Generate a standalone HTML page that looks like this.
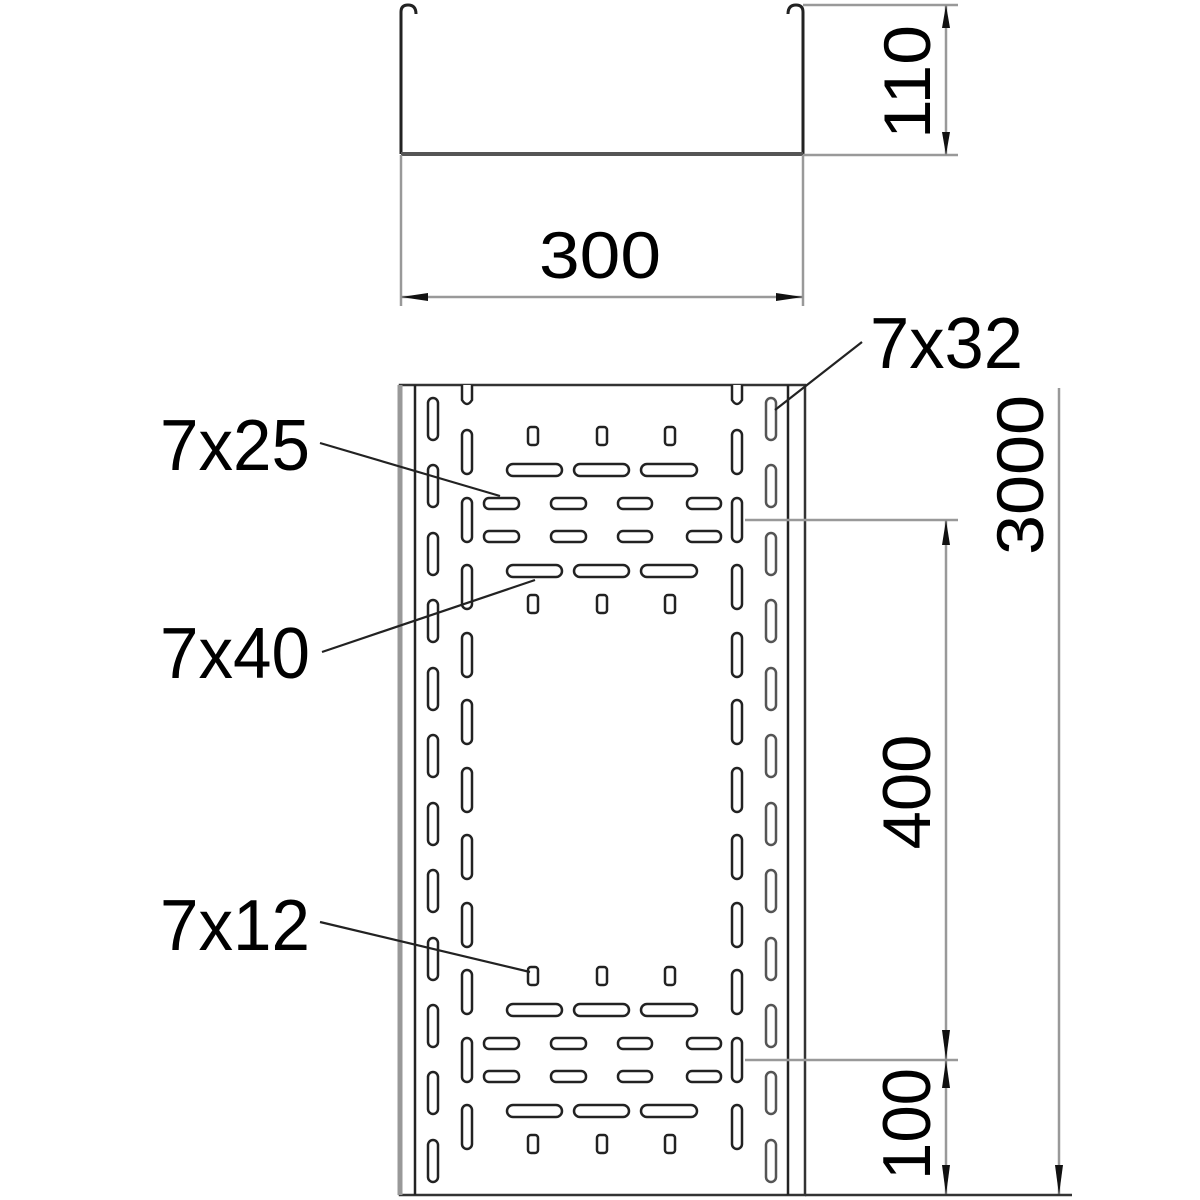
<!DOCTYPE html>
<html><head><meta charset="utf-8"><style>html,body{margin:0;padding:0;background:#fff}svg{display:block}</style></head>
<body>
<svg width="1200" height="1200" viewBox="0 0 1200 1200" xmlns="http://www.w3.org/2000/svg" font-family="Liberation Sans, sans-serif">
<rect width="1200" height="1200" fill="#fff"/>
<g fill="none" stroke="#222" stroke-width="3">
<path d="M401,154 V12 Q401,5 408,5 Q416,5 416,14"/>
<path d="M803,154 V12 Q803,5 796,5 Q788,5 788,14"/>
<line x1="401" y1="154" x2="803" y2="154" stroke="#555" stroke-width="4"/>
</g>
<g stroke="#999" stroke-width="2.5" fill="none">
<line x1="803" y1="5" x2="958" y2="5"/>
<line x1="803" y1="155" x2="958" y2="155"/>
<line x1="946" y1="5" x2="946" y2="155"/>
<line x1="401" y1="155" x2="401" y2="306"/>
<line x1="803" y1="155" x2="803" y2="306"/>
<line x1="401" y1="297" x2="803" y2="297"/>
</g>
<g fill="#111">
<polygon points="946,5 942,28 950,28"/><polygon points="946,155 942,132 950,132"/>
<polygon points="401,297 428,293 428,301"/><polygon points="803,297 776,293 776,301"/>
</g>
<text x="600" y="278" font-size="66" text-anchor="middle" textLength="122" lengthAdjust="spacingAndGlyphs">300</text>
<text transform="translate(930,82) rotate(-90)" font-size="66" text-anchor="middle" textLength="114" lengthAdjust="spacingAndGlyphs">110</text>

<g fill="none">
<rect x="400" y="385" width="405" height="810" stroke="#333" stroke-width="2.5"/>
<line x1="400" y1="385" x2="400" y2="1195" stroke="#999" stroke-width="5"/>
<line x1="415" y1="385" x2="415" y2="1195" stroke="#222" stroke-width="2.5"/>
<line x1="788" y1="385" x2="788" y2="1195" stroke="#222" stroke-width="2.5"/>
</g>
<g fill="#fff" stroke="#222" stroke-width="2.5">
<path d="M462,385 V400 Q467,408 472,400 V385"/>
<path d="M732,385 V400 Q737,408 742,400 V385"/>
</g>
<g id="slots" fill="#fff" stroke="#222" stroke-width="2.5">
<g id="c1">
<rect x="428" y="398" width="10" height="42" rx="5"/>
<rect x="428" y="465" width="10" height="42" rx="5"/>
<rect x="428" y="533" width="10" height="42" rx="5"/>
<rect x="428" y="600" width="10" height="42" rx="5"/>
<rect x="428" y="668" width="10" height="42" rx="5"/>
<rect x="428" y="735" width="10" height="42" rx="5"/>
<rect x="428" y="803" width="10" height="42" rx="5"/>
<rect x="428" y="870" width="10" height="42" rx="5"/>
<rect x="428" y="938" width="10" height="42" rx="5"/>
<rect x="428" y="1005" width="10" height="42" rx="5"/>
<rect x="428" y="1072" width="10" height="42" rx="5"/>
<rect x="428" y="1140" width="10" height="42" rx="5"/>
</g>
<use href="#c1" x="338" stroke="#555"/>
<g id="c2">
<rect x="462" y="430" width="10" height="44" rx="5"/>
<rect x="462" y="498" width="10" height="44" rx="5"/>
<rect x="462" y="565" width="10" height="44" rx="5"/>
<rect x="462" y="633" width="10" height="44" rx="5"/>
<rect x="462" y="700" width="10" height="44" rx="5"/>
<rect x="462" y="768" width="10" height="44" rx="5"/>
<rect x="462" y="835" width="10" height="44" rx="5"/>
<rect x="462" y="903" width="10" height="44" rx="5"/>
<rect x="462" y="970" width="10" height="44" rx="5"/>
<rect x="462" y="1038" width="10" height="44" rx="5"/>
<rect x="462" y="1105" width="10" height="44" rx="5"/>
</g>
<use href="#c2" x="270"/>
<g id="grp">
<rect x="528" y="427" width="10" height="18" rx="3"/><rect x="597" y="427" width="10" height="18" rx="3"/><rect x="665" y="427" width="10" height="18" rx="3"/>
<rect x="507" y="464" width="55" height="12" rx="6"/><rect x="574" y="464" width="55" height="12" rx="6"/><rect x="641" y="464" width="56" height="12" rx="6"/>
<rect x="484" y="498" width="35" height="11" rx="5"/><rect x="551" y="498" width="35" height="11" rx="5"/><rect x="618" y="498" width="34" height="11" rx="5"/><rect x="687" y="498" width="34" height="11" rx="5"/>
<rect x="484" y="531" width="35" height="11" rx="5"/><rect x="551" y="531" width="35" height="11" rx="5"/><rect x="618" y="531" width="34" height="11" rx="5"/><rect x="687" y="531" width="34" height="11" rx="5"/>
<rect x="507" y="565" width="55" height="12" rx="6"/><rect x="574" y="565" width="55" height="12" rx="6"/><rect x="641" y="565" width="56" height="12" rx="6"/>
<rect x="528" y="595" width="10" height="18" rx="3"/><rect x="597" y="595" width="10" height="18" rx="3"/><rect x="665" y="595" width="10" height="18" rx="3"/>
</g>
<use href="#grp" y="540"/>
</g>

<g stroke="#999" stroke-width="2.5" fill="none">
<line x1="745" y1="520" x2="958" y2="520"/>
<line x1="745" y1="1060" x2="958" y2="1060"/>
<line x1="946" y1="520" x2="946" y2="1195"/>
<line x1="1059" y1="388" x2="1059" y2="1195"/>
<line x1="805" y1="1195" x2="1072" y2="1195" stroke="#333"/>
</g>
<g fill="#111">
<polygon points="946,520 942,545 950,545"/>
<polygon points="946,1060 942,1030 950,1030"/><polygon points="946,1060 942,1088 950,1088"/>
<polygon points="946,1195 942,1165 950,1165"/>
<polygon points="1059,1195 1055,1165 1063,1165"/>
</g>
<text transform="translate(930,792) rotate(-90)" font-size="68" text-anchor="middle" textLength="115" lengthAdjust="spacingAndGlyphs">400</text>
<text transform="translate(930,1124) rotate(-90)" font-size="68" text-anchor="middle" textLength="112" lengthAdjust="spacingAndGlyphs">100</text>
<text transform="translate(1043,475) rotate(-90)" font-size="66" text-anchor="middle" textLength="160" lengthAdjust="spacingAndGlyphs">3000</text>

<g stroke="#222" stroke-width="2.2">
<line x1="320" y1="443" x2="500" y2="496"/>
<line x1="322" y1="652" x2="535" y2="580"/>
<line x1="320" y1="922" x2="530" y2="972"/>
<line x1="862" y1="342" x2="775" y2="410"/>
</g>
<g font-size="72">
<text x="160" y="470" textLength="150" lengthAdjust="spacingAndGlyphs">7x25</text>
<text x="160" y="678" textLength="150" lengthAdjust="spacingAndGlyphs">7x40</text>
<text x="160" y="950" textLength="150" lengthAdjust="spacingAndGlyphs">7x12</text>
<text x="870" y="368" textLength="153" lengthAdjust="spacingAndGlyphs">7x32</text>
</g>
</svg>
</body></html>
